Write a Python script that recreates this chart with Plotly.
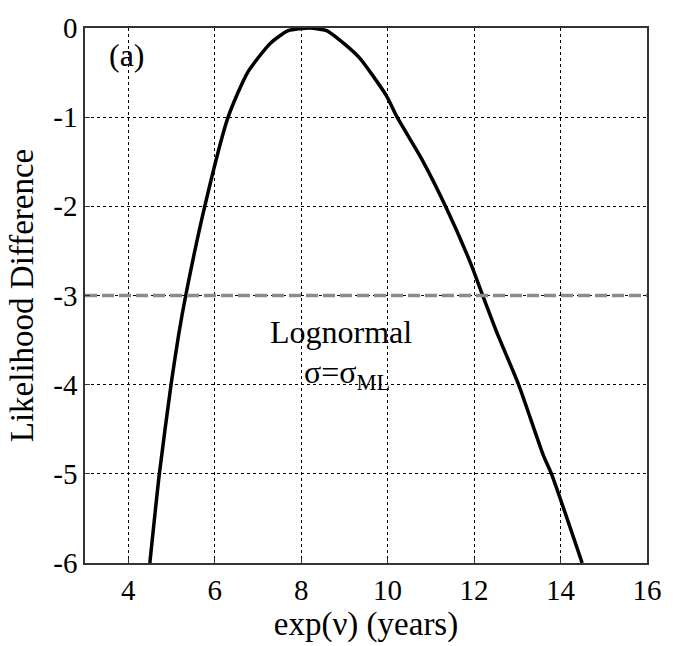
import plotly.graph_objects as go

# Data
x_vals = [4.50, 4.72, 4.99, 5.17, 5.33, 5.77, 6.31, 6.76, 7.29, 7.70, 8.20,
          8.59, 8.88, 9.34, 9.96, 10.22, 10.79, 11.34, 11.93, 12.20, 12.54,
          13.03, 13.60, 13.79, 14.50]
y_vals = [-6.0, -5.0, -4.0, -3.43, -3.0, -2.0, -1.0, -0.5, -0.17, -0.03, 0.0,
          -0.03, -0.13, -0.33, -0.75, -1.0, -1.47, -2.0, -2.65, -3.0, -3.43,
          -4.0, -4.79, -5.0, -6.0]
threshold = -3.0
x_ticks = [4, 6, 8, 10, 12, 14, 16]
x_ticktext = ["4", "6", "8", "10", "12", "14", "16"]
y_ticks = [0, -1, -2, -3, -4, -5, -6]
y_ticktext = ["0", "-1", "-2", "-3", "-4", "-5", "-6"]

FONT = "Liberation Serif, Times New Roman, serif"

fig = go.Figure()
fig.add_trace(go.Scatter(x=x_vals, y=y_vals, mode="lines",
                         line=dict(color="black", width=3.5, shape="spline", smoothing=0.6),
                         showlegend=False))
fig.add_trace(go.Scatter(x=[3, 16], y=[threshold, threshold], mode="lines",
                         line=dict(color="#8c8c8c", width=3.5, dash="12px,5px"),
                         showlegend=False))

axis_common = dict(showgrid=True, gridcolor="black", griddash="3px,3px", gridwidth=1,
                   showline=True, linecolor="#333", linewidth=1.5, mirror=True,
                   ticks="inside", ticklen=5, tickcolor="#333", zeroline=False,
                   tickfont=dict(family=FONT, size=29, color="black"))

fig.update_layout(
    width=674, height=646,
    margin=dict(l=85, r=19, t=20, b=83),
    plot_bgcolor="white", paper_bgcolor="white",
    font=dict(family=FONT, size=28, color="black"),
    xaxis=dict(range=[3, 16], tickvals=x_ticks, ticktext=x_ticktext,
               title=dict(text="exp(ν) (years)", standoff=2,
                          font=dict(family=FONT, size=33, color="black")),
               **axis_common),
    yaxis=dict(range=[-6, 0], tickvals=y_ticks, ticktext=y_ticktext,
               title=dict(text="Likelihood Difference", standoff=10,
                          font=dict(family=FONT, size=33, color="black")),
               **axis_common),
    annotations=[
        dict(text="(a)", x=0.075, y=0.95, xref="paper", yref="paper",
             xanchor="center", yanchor="middle",
             showarrow=False, font=dict(family=FONT, size=32, color="black")),
        dict(text="Lognormal", x=0.456, y=0.432, xref="paper", yref="paper",
             xanchor="center", yanchor="middle",
             showarrow=False, font=dict(family=FONT, size=32, color="black")),
        dict(text="σ=σ<sub>ML</sub>", x=0.466, y=0.352, xref="paper", yref="paper",
             xanchor="center", yanchor="middle",
             showarrow=False, font=dict(family=FONT, size=32, color="black")),
    ],
)

fig.write_html("out.html")
